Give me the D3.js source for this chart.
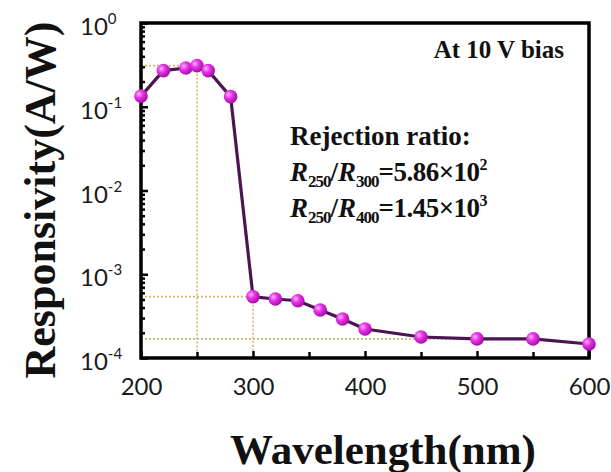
<!DOCTYPE html>
<html>
<head>
<meta charset="utf-8">
<script src="https://cdn.jsdelivr.net/npm/d3@7"></script>
<style>
  body { margin: 0; background: #fff; }
  .serif { font-family: "Liberation Serif", "Times New Roman", serif; font-weight: bold; fill: #111; }
  .tick text { font-family: Lato, "Open Sans", sans-serif; font-size: 24px; fill: #1a1a1a; }
</style>
</head>
<body>
<svg id="chart" width="611" height="472"></svg>
<script>
// wavelength (nm) and responsivity (A/W)
var wavelengths = [200, 220, 240, 250, 260, 280, 300, 320, 340, 360, 380, 400, 450, 500, 550, 600];
var responsivity = [0.134, 0.27, 0.29, 0.31, 0.27, 0.132, 5.4e-4, 5.06e-4, 4.83e-4, 3.74e-4, 2.92e-4, 2.22e-4, 1.78e-4, 1.69e-4, 1.69e-4, 1.47e-4];
var xTicks = [200, 300, 400, 500, 600];
var xMinorTicks = [250, 350, 450, 550];
var yExponents = [0, -1, -2, -3, -4];

var data = wavelengths.map((w, i) => ({ w: w, r: responsivity[i] }));

var svg = d3.select("#chart");

var plotLeft = 141, plotRight = 589, plotTop = 23, plotBottom = 358;

var x = d3.scaleLinear().domain([200, 600]).range([plotLeft, plotRight]);
var y = d3.scaleLog().domain([1e-4, 1]).range([plotBottom, plotTop]);

var defs = svg.append("defs");
var grad = defs.append("radialGradient")
    .attr("id", "ball")
    .attr("cx", "35%").attr("cy", "35%").attr("r", "65%");
grad.append("stop").attr("offset", "0%").attr("stop-color", "#ffb0ff");
grad.append("stop").attr("offset", "45%").attr("stop-color", "#e632e6");
grad.append("stop").attr("offset", "100%").attr("stop-color", "#a810a8");

// dotted guide lines
var guide = svg.append("g")
    .attr("stroke", "#d2b46e")
    .attr("stroke-width", 1.6)
    .attr("stroke-dasharray", "2,2")
    .attr("fill", "none");

var r250 = data.find(d => d.w === 250).r;
var r300 = data.find(d => d.w === 300).r;
var r500 = data.find(d => d.w === 500).r;

guide.append("line").attr("x1", x(200)).attr("x2", x(250)).attr("y1", y(r250)).attr("y2", y(r250));
guide.append("line").attr("x1", x(250)).attr("x2", x(250)).attr("y1", y(r250)).attr("y2", plotBottom);
guide.append("line").attr("x1", x(200)).attr("x2", x(300)).attr("y1", y(r300)).attr("y2", y(r300));
guide.append("line").attr("x1", x(300)).attr("x2", x(300)).attr("y1", y(r300)).attr("y2", plotBottom);
guide.append("line").attr("x1", x(200)).attr("x2", x(500)).attr("y1", y(r500)).attr("y2", y(r500));

// x axis (ticks point inward)
svg.append("g")
    .attr("transform", `translate(0,${plotBottom})`)
    .call(d3.axisBottom(x).tickValues(xTicks).tickSizeInner(-7).tickSizeOuter(0).tickPadding(14).tickFormat(d3.format("d")))
  .selectAll(".tick text").attr("dy", "0.71em").attr("y", 20);

svg.append("g")
    .attr("transform", `translate(0,${plotBottom})`)
    .call(d3.axisBottom(x).tickValues(xMinorTicks).tickSizeInner(-6).tickSizeOuter(0).tickFormat(""));

// y axis: minor and major ticks inward
var minor = [];
yExponents.forEach(e => {
  if (e < 0) for (var k = 2; k <= 9; k++) minor.push(k * Math.pow(10, e));
});
svg.append("g")
    .attr("transform", `translate(${plotLeft},0)`)
    .call(d3.axisLeft(y).tickValues(minor).tickSizeInner(-4).tickSizeOuter(0).tickFormat(""));
svg.append("g")
    .attr("transform", `translate(${plotLeft},0)`)
    .call(d3.axisLeft(y).tickValues(yExponents.map(e => Math.pow(10, e))).tickSizeInner(-7).tickSizeOuter(0).tickFormat(""));

svg.selectAll(".domain").remove();
svg.selectAll(".tick line").attr("stroke", "#000").attr("stroke-width", 2.5);

// y labels as 10 with superscript
yExponents.forEach(e => {
  var t = svg.append("text")
      .attr("x", 80)
      .attr("y", y(Math.pow(10, e)) + 12)
      .attr("font-family", "Lato, 'Open Sans', sans-serif")
      .attr("font-size", 24)
      .attr("fill", "#1a1a1a");
  t.append("tspan").text("10");
  t.append("tspan").attr("dy", -11).attr("font-size", 15).text(e === 0 ? "0" : "-" + (-e));
});

// frame
svg.append("rect")
    .attr("x", plotLeft).attr("y", plotTop)
    .attr("width", plotRight - plotLeft).attr("height", plotBottom - plotTop)
    .attr("fill", "none")
    .attr("stroke", "#000")
    .attr("stroke-width", 3.5);

// line and markers
var line = d3.line().x(d => x(d.w)).y(d => y(d.r));
svg.append("path")
    .datum(data)
    .attr("fill", "none")
    .attr("stroke", "#4b1552")
    .attr("stroke-width", 3.2)
    .attr("d", line);

svg.append("g")
  .selectAll("circle")
  .data(data)
  .join("circle")
    .attr("cx", d => x(d.w))
    .attr("cy", d => y(d.r))
    .attr("r", 6.8)
    .attr("fill", "url(#ball)");

// annotations
svg.append("text").attr("class", "serif")
    .attr("x", 564).attr("y", 58)
    .attr("text-anchor", "end")
    .attr("font-size", 25)
    .text("At 10 V bias");

svg.append("text").attr("class", "serif")
    .attr("x", 290).attr("y", 145)
    .attr("font-size", 27)
    .text("Rejection ratio:");

function ratio(yPos, den, val, exp) {
  var t = svg.append("text").attr("class", "serif")
      .attr("x", 290).attr("y", yPos)
      .attr("font-size", 27);
  t.append("tspan").attr("font-style", "italic").text("R");
  t.append("tspan").attr("font-size", 17).attr("dy", 6).attr("letter-spacing", -1).text("250");
  t.append("tspan").attr("dy", -6).text("/");
  t.append("tspan").attr("font-style", "italic").text("R");
  t.append("tspan").attr("font-size", 17).attr("dy", 6).attr("letter-spacing", -1).text(den);
  t.append("tspan").attr("dy", -6).attr("letter-spacing", -0.5).text("=" + val + "×10");
  t.append("tspan").attr("font-size", 16).attr("dy", -11).text(exp);
}
ratio(181, "300", "5.86", "2");
ratio(217, "400", "1.45", "3");

// axis titles
svg.append("text").attr("class", "serif")
    .attr("x", 383).attr("y", 464)
    .attr("text-anchor", "middle")
    .attr("font-size", 43)
    .text("Wavelength(nm)");

svg.append("text").attr("class", "serif")
    .attr("transform", "translate(55,200) rotate(-90)")
    .attr("text-anchor", "middle")
    .attr("font-size", 44)
    .text("Responsivity(A/W)");
</script>
</body>
</html>
